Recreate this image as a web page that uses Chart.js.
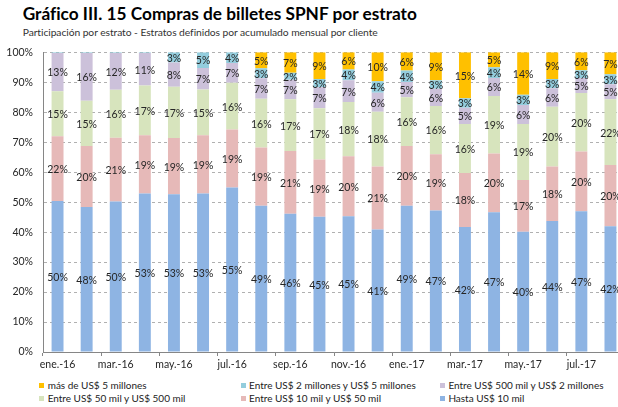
<!DOCTYPE html>
<html>
<head>
<meta charset="utf-8">
<script src="https://cdn.jsdelivr.net/npm/chart.js@4.4.1/dist/chart.umd.min.js"></script>
<style>
  html, body { margin:0; padding:0; background:#fff; width:618px; height:407px; overflow:hidden; font-family: Lato, "Open Sans", sans-serif; }
  #title { position:absolute; left:22.7px; top:2px; font-size:17px; line-height:24px; font-weight:bold; color:#000; white-space:nowrap; }
  #subtitle { position:absolute; left:22.7px; top:25px; font-size:11px; line-height:14px; color:#333; white-space:nowrap; }
  #wrap { position:absolute; left:0; top:36px; width:630px; height:340px; }
  #legend { position:absolute; left:39.3px; top:379px; display:grid; grid-template-columns:201.4px 199.3px auto; row-gap:1.3px; font-size:10px; color:#222; }
  #legend .it { display:flex; align-items:center; white-space:nowrap; height:12px; }
  #legend .bx { width:5px; height:5px; margin-right:3.4px; flex:none; }
</style>
</head>
<body>
<div id="title"><span>Gráfico III. 15 Compras de billetes SPNF por estrato</span></div>
<div id="subtitle"><span>Participación por estrato - Estratos definidos por acumulado mensual por cliente</span></div>
<div id="wrap"><canvas id="c" width="630" height="340"></canvas></div>
<div id="legend"></div>
<script>
const categories = ["ene.-16","feb.-16","mar.-16","abr.-16","may.-16","jun.-16","jul.-16","ago.-16","sep.-16","oct.-16","nov.-16","dic.-16","ene.-17","feb.-17","mar.-17","abr.-17","may.-17","jun.-17","jul.-17","ago.-17"];
const hasta10mil    = [50.4,48.4,50.2,52.9,52.6,52.9,54.9,48.8,46.1,45.1,45.3,40.9,48.8,47.2,41.7,46.6,40.1,43.7,47.0,42.0];
const entre10y50mil = [21.6,20.3,21.3,19.4,18.8,19.4,19.3,19.4,21.0,19.1,20.0,21.0,19.9,18.8,18.0,19.6,17.3,18.2,19.9,20.4];
const entre50y500mil= [15.0,15.1,16.0,16.6,17.1,15.3,15.6,16.3,17.2,17.1,18.1,18.3,16.3,16.1,16.4,19.2,18.7,19.9,19.5,21.9];
const entre500y2M   = [12.8,16.0,12.3,10.9, 8.1, 7.2, 6.6, 6.8, 6.5, 7.0, 7.3, 6.3, 5.1, 5.7, 5.4, 6.0, 6.3, 6.2, 5.0, 5.0];
const entre2y5M     = [ 0.2, 0.2, 0.2, 0.2, 3.4, 5.2, 3.6, 3.4, 2.4, 2.8, 3.6, 3.8, 3.8, 2.9, 3.2, 3.6, 3.4, 3.1, 2.6, 3.4];
const mas5M         = [ 0.0, 0.0, 0.0, 0.0, 0.0, 0.0, 0.0, 5.3, 6.8, 8.9, 5.7, 9.7, 6.1, 9.3,15.3, 5.0,14.2, 8.9, 6.0, 7.3];
const yTicks = [0,10,20,30,40,50,60,70,80,90,100];

const seriesNames = ["Hasta US$ 10 mil","Entre US$ 10 mil y US$ 50 mil","Entre US$ 50 mil y US$ 500 mil","Entre US$ 500 mil y US$ 2 millones","Entre US$ 2 millones y US$ 5 millones","más de US$ 5 millones"];
const seriesData = [hasta10mil, entre10y50mil, entre50y500mil, entre500y2M, entre2y5M, mas5M];
const seriesColors = ["#8EB4E3","#E6B9B8","#D7E4BD","#CCC1DA","#93CDDD","#FFC000"];

const FONT = "Lato, 'Open Sans', sans-serif";

const labelPlugin = {
  id: 'segLabels',
  afterDatasetsDraw(chart) {
    const ctx = chart.ctx;
    ctx.save();
    ctx.font = "10.5px " + FONT;
    ctx.fillStyle = "#262626";
    ctx.textAlign = "center";
    ctx.textBaseline = "middle";
    chart.data.datasets.forEach((ds, di) => {
      const meta = chart.getDatasetMeta(di);
      meta.data.forEach((el, i) => {
        const v = ds.data[i];
        if (Math.round(v) < 2) return;
        const p = el.getProps(['x','y','base'], true);
        ctx.fillText(Math.round(v) + "%", p.x, (p.y + p.base) / 2 + 1);
      });
    });
    ctx.restore();
  }
};

const chart = new Chart(document.getElementById('c'), {
  type: 'bar',
  data: {
    labels: categories,
    datasets: seriesNames.map((n, k) => ({
      label: n,
      data: seriesData[k],
      backgroundColor: seriesColors[k],
      borderWidth: 0,
      barPercentage: 0.41,
      categoryPercentage: 1.0
    }))
  },
  options: {
    responsive: false,
    animation: false,
    layout: { padding: { left: 0, right: 5, top: 10, bottom: 0 } },
    plugins: { legend: { display: false }, tooltip: { enabled: false }, title: { display: false } },
    scales: {
      x: {
        stacked: true,
        offset: true,
        grid: {
          offset: true,
          drawOnChartArea: false,
          drawTicks: true,
          tickLength: 4,
          tickColor: (c) => (c.index % 2 === 0 ? "#868686" : "rgba(0,0,0,0)"),
          color: (c) => (c.index % 2 === 0 ? "#868686" : "rgba(0,0,0,0)")
        },
        border: { display: true, color: "#868686", width: 1 },
        ticks: {
          autoSkip: false,
          maxRotation: 0,
          minRotation: 0,
          padding: 2,
          color: "#262626",
          font: { family: FONT, size: 10.5 },
          callback: function(v, i) { return i % 2 === 0 ? categories[i] : ""; }
        },
        afterFit: (s) => { s.height = 24; }
      },
      y: {
        stacked: true,
        min: 0,
        max: 100,
        afterBuildTicks: (s) => { s.ticks = yTicks.map(v => ({ value: v })); },
        grid: {
          drawTicks: false,
          color: "#B0B0B0",
          lineWidth: 1
        },
        border: { display: true, color: "#868686", width: 1, dash: [3, 3] },
        ticks: {
          padding: 10,
          color: "#262626",
          font: { family: FONT, size: 10.5 },
          callback: (v) => v + "%"
        },
        afterFit: (s) => { s.width = 43; }
      }
    }
  },
  plugins: [labelPlugin]
});

// HTML legend built from the chart's datasets (reverse order, 3 columns)
const lg = document.getElementById('legend');
chart.data.datasets.slice().reverse().forEach(ds => {
  const it = document.createElement('div'); it.className = 'it';
  const bx = document.createElement('span'); bx.className = 'bx'; bx.style.background = ds.backgroundColor;
  const tx = document.createElement('span'); tx.className = 'tx'; tx.textContent = ds.label;
  it.appendChild(bx); it.appendChild(tx); lg.appendChild(it);
});

// Fit text widths to the reference measurements
function fitText(container, target, minSize, maxSize) {
  const span = container.firstElementChild;
  container.style.letterSpacing = '0px';
  let w = span.getBoundingClientRect().width;
  const fs = parseFloat(getComputedStyle(container).fontSize);
  const nfs = Math.max(minSize, Math.min(maxSize, fs * target / w));
  container.style.fontSize = nfs + 'px';
  w = span.getBoundingClientRect().width;
  const n = span.textContent.length;
  container.style.letterSpacing = ((target - w) / n) + 'px';
}
fitText(document.getElementById('title'), 394, 16.5, 18);
fitText(document.getElementById('subtitle'), 355, 10.3, 11.5);
(function () {
  const first = lg.querySelector('.tx');
  const w = first.getBoundingClientRect().width;
  const fs = Math.min(10.8, 10 * 99 / w);
  lg.style.fontSize = fs + 'px';
})();
</script>
</body>
</html>
